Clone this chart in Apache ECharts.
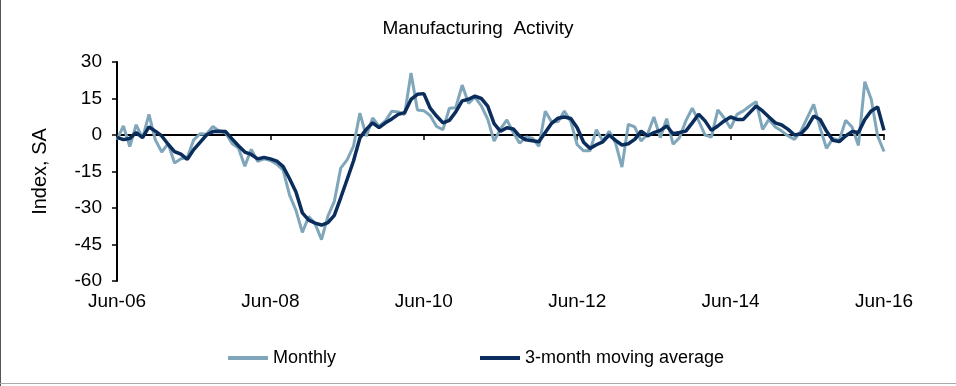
<!DOCTYPE html>
<html>
<head>
<meta charset="utf-8">
<script src="https://cdn.jsdelivr.net/npm/echarts@6/dist/echarts.min.js"></script>
<style>
html,body{margin:0;padding:0;background:#fff;}
#chart{width:956px;height:386px;}
</style>
</head>
<body>
<div id="chart"></div>
<script>
// Categories: monthly, Jun-06 .. Jun-16
const monthNames = ['Jan','Feb','Mar','Apr','May','Jun','Jul','Aug','Sep','Oct','Nov','Dec'];
const categories = [];
for (let i = 0; i <= 120; i++) {
  const mIdx = (5 + i) % 12;
  const yr = 6 + Math.floor((5 + i) / 12);
  categories.push(monthNames[mIdx] + '-' + (yr < 10 ? '0' + yr : '' + yr));
}
const tickLabels = ['Jun-06','Jun-08','Jun-10','Jun-12','Jun-14','Jun-16'];

const monthly = [
  -2, 3.7, -4.8, 4.2, -1.3, 8.5, -2, -7, -3.5, -11.5,
  -9.8, -9.3, -2, 0.5, 0.3, 3.5, 1.6, 0.8, -3.5, -5.3,
  -12.8, -5.9, -10.8, -9.8, -10.5, -12, -14.5, -24.7, -31, -40,
  -33.5, -36.5, -43, -33.3, -27.3, -13.6, -10.2, -4.6, 9, -0.5,
  7, 3.5, 5.8, 9.8, 9.5, 8.4, 25.5, 10.3, 10, 8,
  3.5, 2.2, 11, 11.2, 20.5, 13, 15.6, 12, 6.5, -2.5,
  2.5, 6.2, 1, -3.4, -0.8, -1.3, -4.6, 9.8, 5.3, 5.5,
  9.8, 5.5, -4, -6.5, -6.5, 2.2, -2.5, 1.5, -3.2, -13.2,
  4.4, 3.3, -2.5, 0.3, 7.4, -1.1, 6.7, -3.8, -1.1, 5.8,
  11, 5.8, 0, -0.8, 10.3, 7, 2.8, 8.5, 9.9, 11.9,
  13.7, 2.3, 6.4, 3.3, 1.6, -0.4, -1.8, 1.6, 7.1, 12.6,
  3, -5.5, -1.4, -2.2, 6, 3.3, -4.3, 21.9, 14.7, -0.4,
  -6.8
];

const movingAvg = [
  -1, -1.9, -1.4, 1, -1.1, 3.3, 1.6, -0.4, -3.8, -6.8,
  -7.9, -10, -6, -3, 0, 1.4, 1.5, 1.4, -1.6, -4.4,
  -7, -8, -9.8, -9.2, -9.8, -10.7, -13, -18, -23.4, -32,
  -35, -36.2, -37, -36, -33, -25.8, -18.3, -10.7, -1.2, 2.3,
  5, 3, 5, 6.6, 8.5, 9.2, 14.6, 16.7, 17, 11,
  7.8, 5, 6, 9.5, 14, 14.7, 16, 15, 11.9, 4.7,
  1.5, 3, 2.5, -0.5, -2, -2.4, -2.8, 1, 4.8, 6.9,
  7.4, 6.8, 3, -3, -5.5, -4, -2.8, 0, -2.2, -4.1,
  -3.6, -1.8, 1.6, -0.4, 1, 1.9, 3.7, 0.5, 1, 1.6,
  5, 8.5, 5.8, 1.9, 3.7, 5.8, 7.4, 6.4, 6.4, 9.2,
  11.9, 9.9, 7.4, 5, 4.1, 2.3, 0, 0.5, 3.3, 7.8,
  6.4, 1.6, -2.2, -2.7, -0.4, 1.4, 1, 6.4, 9.9, 11.5,
  1.9
];

const FONT = '"Liberation Sans", Arial, sans-serif';
const chart = echarts.init(document.getElementById('chart'), null, {renderer: 'canvas'});
const showTick = (idx) => tickLabels.indexOf(categories[idx]) !== -1;

chart.setOption({
  animation: false,
  backgroundColor: '#fff',
  title: {
    text: 'Manufacturing  Activity',
    left: 'center',
    top: 14,
    textStyle: {fontFamily: FONT, fontSize: 19, fontWeight: 'normal', color: '#000'}
  },
  legend: [
    {
      data: ['Monthly'],
      left: 228, top: 349, padding: 0,
      icon: 'rect', itemWidth: 40, itemHeight: 4,
      textStyle: {fontFamily: FONT, fontSize: 18, color: '#000'}
    },
    {
      data: ['3-month moving average'],
      left: 480, top: 349, padding: 0,
      icon: 'rect', itemWidth: 40, itemHeight: 4,
      textStyle: {fontFamily: FONT, fontSize: 18, color: '#000'}
    }
  ],
  grid: {left: 117, right: 72, top: 62, bottom: 105, containLabel: false, outerBoundsMode: 'none'},
  xAxis: {
    type: 'category',
    data: categories,
    boundaryGap: false,
    axisLine: {onZero: true, lineStyle: {color: '#000', width: 2}},
    axisTick: {show: true, interval: (idx) => showTick(idx), length: 5, lineStyle: {color: '#000', width: 1.5}},
    axisLabel: {
      interval: (idx) => showTick(idx),
      margin: 11,
      fontFamily: FONT, fontSize: 19, color: '#000'
    },
    splitLine: {show: false}
  },
  yAxis: {
    type: 'value',
    min: -60, max: 30, interval: 15,
    name: 'Index, SA',
    nameLocation: 'middle',
    nameGap: 67,
    nameTextStyle: {fontFamily: FONT, fontSize: 20, color: '#000'},
    axisLine: {show: true, lineStyle: {color: '#000', width: 2}},
    axisTick: {show: true, length: 5, lineStyle: {color: '#000', width: 1.5}},
    axisLabel: {margin: 15, fontFamily: FONT, fontSize: 19, color: '#000'},
    splitLine: {show: false}
  },
  series: [
    {
      name: 'Monthly',
      type: 'line',
      data: monthly,
      symbol: 'none',
      lineStyle: {color: '#7fa6bb', width: 3},
      itemStyle: {color: '#7fa6bb'},
      z: 2
    },
    {
      name: '3-month moving average',
      type: 'line',
      data: movingAvg,
      symbol: 'none',
      lineStyle: {color: '#0b2d5c', width: 3.5},
      itemStyle: {color: '#0b2d5c'},
      z: 3
    }
  ],
  graphic: [
    {type: 'line', shape: {x1: 0.5, y1: 0, x2: 0.5, y2: 386}, style: {stroke: '#555', lineWidth: 1}},
    {type: 'line', shape: {x1: 0, y1: 383.5, x2: 956, y2: 383.5}, style: {stroke: '#aaa', lineWidth: 1}}
  ]
});
</script>
</body>
</html>
